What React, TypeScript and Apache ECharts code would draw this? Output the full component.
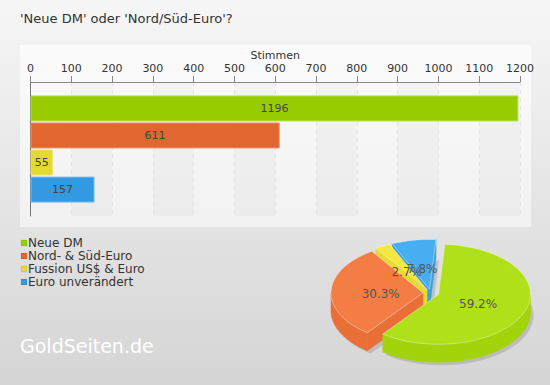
import React, { useEffect, useRef } from 'react';
import * as echarts from 'echarts';

const chartTitle = "'Neue DM' oder 'Nord/Süd-Euro'?";
const axisName = 'Stimmen';
const categories = ['Neue DM', 'Nord- & Süd-Euro', 'Fussion US$ & Euro', 'Euro unverändert'];
const votes = [1196, 611, 55, 157];
const sharePercent = [59.2, 30.3, 2.7, 7.8];
const axisMax = 1200;
const axisInterval = 100;
const watermark = 'GoldSeiten.de';

const barColors = ['#99cc00', '#e26630', '#e3d930', '#3399e0'];
const barBorders = ['#b8dd50', '#ee9570', '#eee27a', '#7fbcec'];
const pieTop = ['#b0e01a', '#f47d45', '#f5e83e', '#46aef1'];
const pieSide = ['#a2d30b', '#e96f37', '#e8da2f', '#3a9fe2'];

const FONT = 'DejaVu Sans';

// 3D pie geometry (layout only)
const PIE = { cx: 431, cy: 293, rx: 92, ry: 50, depth: 18, explode: 8, start: (4 * Math.PI) / 180 };

function renderPieSlice(params: any, api: any) {
  const i = params.dataIndex;
  const total = votes.reduce((s, v) => s + v, 0);
  let cum = 0;
  for (let k = 0; k < i; k++) cum += votes[k];
  const v = api.value(0);
  const a0 = PIE.start + (cum / total) * Math.PI * 2;
  const a1 = a0 + (v / total) * Math.PI * 2;
  const mid = (a0 + a1) / 2;
  const ox = PIE.explode * Math.sin(mid);
  const oy = -PIE.explode * Math.cos(mid) * 0.45;
  const cx = PIE.cx + ox;
  const cy = PIE.cy + oy;
  const pt = (a: number, dz: number, dx = 0) => [cx + dx + PIE.rx * Math.sin(a), cy - PIE.ry * Math.cos(a) + dz];
  const arc = (s: number, e: number, dz: number, dx = 0) => {
    const n = Math.max(2, Math.ceil(((e - s) * 180) / Math.PI / 2));
    const out: number[][] = [];
    for (let k = 0; k <= n; k++) out.push(pt(s + ((e - s) * k) / n, dz, dx));
    return out;
  };
  const children: any[] = [];
  // shadow
  children.push({
    type: 'polygon',
    z2: 1,
    shape: { points: [[cx + 3, cy + PIE.depth + 3], ...arc(a0, a1, PIE.depth + 3, 3)] },
    style: { fill: 'rgba(0,0,0,0.13)' },
    silent: true,
  });
  // outer wall (front visible part)
  const ranges = [
    [Math.PI / 2, (3 * Math.PI) / 2],
    [Math.PI / 2 + 2 * Math.PI, (3 * Math.PI) / 2 + 2 * Math.PI],
  ];
  for (const [rs, re] of ranges) {
    const s = Math.max(a0, rs);
    const e = Math.min(a1, re);
    if (e > s) {
      const top = arc(s, e, 0);
      const bot = arc(s, e, PIE.depth).reverse();
      const avgY = top.reduce((acc, p) => acc + p[1], 0) / top.length + PIE.depth / 2;
      children.push({
        type: 'polygon',
        z2: 10 + Math.round(avgY),
        shape: { points: [...top, ...bot] },
        style: { fill: pieSide[i], stroke: pieSide[i], lineWidth: 0.5 },
      });
    }
  }
  // radial walls
  const walls = [
    { a: a0, vis: Math.sin(a0) < 0 },
    { a: a1, vis: Math.sin(a1) > 0 },
  ];
  for (const w of walls) {
    if (!w.vis) continue;
    const e0 = pt(w.a, 0);
    const e1 = pt(w.a, PIE.depth);
    const avgY = (cy + e0[1]) / 2 + PIE.depth / 2;
    children.push({
      type: 'polygon',
      z2: 10 + Math.round(avgY),
      shape: { points: [[cx, cy], e0, e1, [cx, cy + PIE.depth]] },
      style: { fill: pieSide[i], stroke: pieSide[i], lineWidth: 0.5 },
    });
  }
  // top face
  children.push({
    type: 'polygon',
    z2: 1000,
    shape: { points: [[cx, cy], ...arc(a0, a1, 0)] },
    style: { fill: pieTop[i], stroke: 'rgba(255,255,255,0.35)', lineWidth: 1 },
  });
  // label
  const lp = [cx + 0.46 * PIE.rx * Math.sin(mid), cy - 0.46 * PIE.ry * Math.cos(mid) + 2];
  children.push({
    type: 'text',
    z2: 1100,
    x: lp[0],
    y: lp[1],
    style: {
      text: sharePercent[i].toFixed(1) + '%',
      fill: '#555',
      font: `12px "${FONT}"`,
      align: 'center',
      verticalAlign: 'middle',
    },
  });
  return { type: 'group', children };
}

export default function App() {
  const ref = useRef<HTMLDivElement>(null);
  useEffect(() => {
    if (!ref.current) return;
    const chart = echarts.init(ref.current, undefined, { renderer: 'svg' });
    const legendItems: any[] = [];
    categories.forEach((c, i) => {
      const y = 243 + i * 13;
      legendItems.push({
        type: 'rect',
        shape: { x: 21, y: y - 3, width: 6, height: 6 },
        style: { fill: barColors[i], stroke: 'rgba(0,0,0,0.15)', lineWidth: 0.5 },
      });
      legendItems.push({
        type: 'text',
        x: 28,
        y,
        style: { text: c, fill: '#333', font: `12px "${FONT}"`, verticalAlign: 'middle' },
      });
    });

    chart.setOption({
      animation: false,
      backgroundColor: new echarts.graphic.LinearGradient(0, 0, 0, 1, [
        { offset: 0, color: '#f6f6f6' },
        { offset: 1, color: '#d5d5d5' },
      ]),
      textStyle: { fontFamily: FONT },
      graphic: [
        {
          type: 'rect',
          z: -1,
          shape: { x: 20, y: 45, width: 511, height: 182 },
          style: {
            fill: new echarts.graphic.LinearGradient(0, 0, 0, 1, [
              { offset: 0, color: '#fbfbfb' },
              { offset: 1, color: '#f1f1f1' },
            ]),
          },
          silent: true,
        },
        {
          type: 'text',
          x: 20,
          y: 18,
          style: { text: chartTitle, fill: '#333', font: `13px "${FONT}"`, verticalAlign: 'middle' },
        },
        ...legendItems,
        {
          type: 'text',
          x: 20,
          y: 346,
          style: { text: watermark, fill: '#ffffff', font: `19px "${FONT}"`, verticalAlign: 'middle' },
        },
      ],
      grid: { left: 30.5, right: 30, top: 82, height: 134, containLabel: false },
      xAxis: {
        type: 'value',
        position: 'top',
        min: 0,
        max: axisMax,
        interval: axisInterval,
        name: axisName,
        nameLocation: 'middle',
        nameGap: 21,
        nameTextStyle: { color: '#333', fontSize: 11, fontFamily: FONT },
        axisLine: { show: true, lineStyle: { color: '#888' } },
        axisTick: { show: true, length: 6, lineStyle: { color: '#888' } },
        axisLabel: { color: '#333', fontSize: 11, fontFamily: FONT, margin: 8, formatter: (v: number) => String(v) },
        splitLine: { show: true, lineStyle: { color: '#e4e4e4', type: [4, 4] } },
        splitArea: { show: true, areaStyle: { color: ['rgba(0,0,0,0)', 'rgba(0,0,0,0.025)'] } },
      },
      yAxis: {
        type: 'category',
        data: ['Stimmen'],
        axisLine: { show: true, lineStyle: { color: '#777' } },
        axisTick: { show: false },
        axisLabel: { show: false },
        splitLine: { show: false },
      },
      series: [
        ...categories.map((c, i) => ({
          type: 'bar',
          name: c,
          data: [votes[i]],
          barGap: '4%',
          barCategoryGap: '20%',
          itemStyle: { color: barColors[i], borderColor: barBorders[i], borderWidth: 1 },
          label: {
            show: true,
            position: 'inside',
            color: '#444',
            fontSize: 11,
            fontFamily: FONT,
          },
        })),
        {
          type: 'custom',
          coordinateSystem: 'none',
          renderItem: renderPieSlice,
          data: votes.map((v, i) => ({ value: [v], name: categories[i] })),
          z: 5,
        },
      ],
    });
    return () => chart.dispose();
  }, []);
  return <div ref={ref} style={{ position: 'fixed', left: 0, top: 0, width: 550, height: 385 }} />;
}
